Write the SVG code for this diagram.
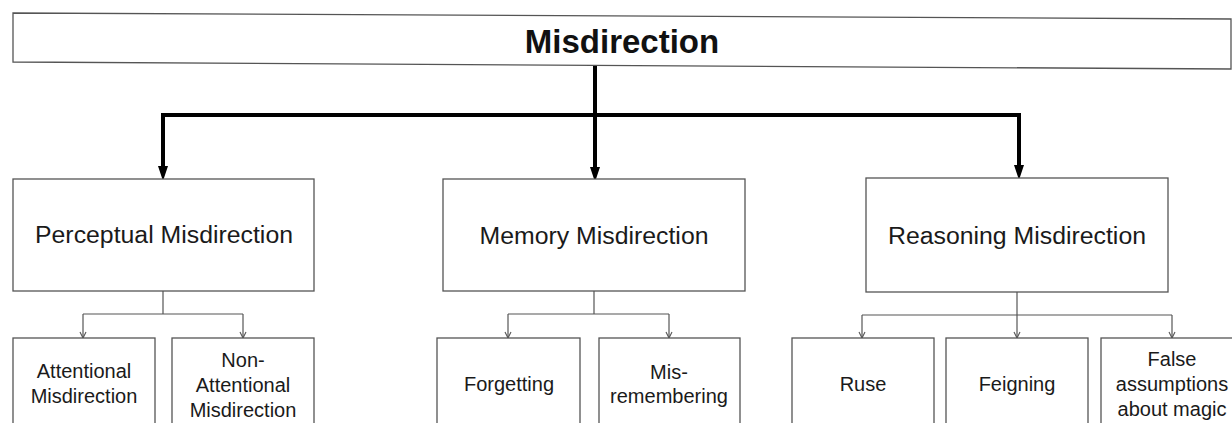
<svg xmlns="http://www.w3.org/2000/svg" width="1232" height="423" viewBox="0 0 1232 423">
  <style>
    .box { fill: #ffffff; stroke: #555555; stroke-width: 1.3; }
    .title { font-family: "Liberation Sans", Arial, Helvetica, sans-serif; font-weight: bold; font-size: 33px; fill: #111111; text-anchor: middle; }
    .mid { font-family: "Liberation Sans", Arial, Helvetica, sans-serif; font-size: 23px; fill: #1a1a1a; text-anchor: middle; }
    .leaf { font-family: "Liberation Sans", Arial, Helvetica, sans-serif; font-size: 20px; fill: #1a1a1a; text-anchor: middle; }
    .thick { fill: none; stroke: #000000; stroke-width: 4; }
    .thin { fill: none; stroke: #555555; stroke-width: 1.2; }
  </style>
  <defs>
    <marker id="bigArrow" viewBox="0 0 15 10" refX="0" refY="5" markerWidth="15" markerHeight="10" markerUnits="userSpaceOnUse" orient="auto">
      <path d="M0,0 L15,5 L0,10 z" fill="#000000"/>
    </marker>
    <marker id="smallArrow" viewBox="0 0 8 8" refX="7" refY="4" markerWidth="8" markerHeight="8" markerUnits="userSpaceOnUse" orient="auto">
      <path d="M1,1 L7,4 L1,7" fill="none" stroke="#555555" stroke-width="1.1"/>
    </marker>
  </defs>

  <rect width="1232" height="423" fill="#ffffff"/>

  <!-- connectors -->
  <g id="connectors">
    <!-- root to second level -->
    <path class="thick" d="M595,66 V167" stroke-width="3" marker-end="url(#bigArrow)"/>
    <path class="thick" d="M163,115 H1019"/>
    <path class="thick" d="M163,113 V166" marker-end="url(#bigArrow)"/>
    <path class="thick" d="M1019,113 V165" marker-end="url(#bigArrow)"/>

    <!-- perceptual branches -->
    <path class="thin" d="M163,291 V314 M83,314 H243"/>
    <path class="thin" d="M83,314 V338" marker-end="url(#smallArrow)"/>
    <path class="thin" d="M243,314 V338" marker-end="url(#smallArrow)"/>

    <!-- memory branches -->
    <path class="thin" d="M594,291 V314 M508,314 H669"/>
    <path class="thin" d="M508,314 V338" marker-end="url(#smallArrow)"/>
    <path class="thin" d="M669,314 V338" marker-end="url(#smallArrow)"/>

    <!-- reasoning branches -->
    <path class="thin" d="M862,315 H1172"/>
    <path class="thin" d="M1017,292 V338" stroke="#222222" stroke-width="2" marker-end="url(#smallArrow)"/>
    <path class="thin" d="M862,315 V338" marker-end="url(#smallArrow)"/>
    <path class="thin" d="M1172,315 V338" marker-end="url(#smallArrow)"/>
  </g>

  <!-- root -->
  <g id="node-misdirection">
    <polygon class="box" points="13,13 1231,19 1231,69 13,62"/>
    <text class="title" x="622" y="53">Misdirection</text>
  </g>

  <!-- second level -->
  <g id="node-perceptual">
    <rect class="box" x="13" y="179" width="301" height="112"/>
    <text class="mid" x="164" y="243" textLength="258" lengthAdjust="spacingAndGlyphs">Perceptual Misdirection</text>
  </g>
  <g id="node-memory">
    <rect class="box" x="443" y="179" width="302" height="112"/>
    <text class="mid" x="594" y="244" textLength="229" lengthAdjust="spacingAndGlyphs">Memory Misdirection</text>
  </g>
  <g id="node-reasoning">
    <rect class="box" x="866" y="178" width="302" height="114"/>
    <text class="mid" x="1017" y="244" textLength="258" lengthAdjust="spacingAndGlyphs">Reasoning Misdirection</text>
  </g>

  <!-- leaves -->
  <g id="node-attentional">
    <rect class="box" x="13" y="338" width="142" height="100"/>
    <text class="leaf" x="84" y="378">Attentional</text>
    <text class="leaf" x="84" y="403">Misdirection</text>
  </g>
  <g id="node-non-attentional">
    <rect class="box" x="172" y="338" width="142" height="100"/>
    <text class="leaf" x="243" y="367">Non-</text>
    <text class="leaf" x="243" y="392">Attentional</text>
    <text class="leaf" x="243" y="417">Misdirection</text>
  </g>
  <g id="node-forgetting">
    <rect class="box" x="437" y="338" width="143" height="100"/>
    <text class="leaf" x="509" y="391">Forgetting</text>
  </g>
  <g id="node-misremembering">
    <rect class="box" x="599" y="338" width="141" height="100"/>
    <text class="leaf" x="669" y="379">Mis-</text>
    <text class="leaf" x="669" y="403">remembering</text>
  </g>
  <g id="node-ruse">
    <rect class="box" x="792" y="338" width="142" height="100"/>
    <text class="leaf" x="863" y="391">Ruse</text>
  </g>
  <g id="node-feigning">
    <rect class="box" x="946" y="338" width="142" height="100"/>
    <text class="leaf" x="1017" y="391">Feigning</text>
  </g>
  <g id="node-false-assumptions">
    <rect class="box" x="1101" y="338" width="143" height="100"/>
    <text class="leaf" x="1172" y="366">False</text>
    <text class="leaf" x="1172" y="391">assumptions</text>
    <text class="leaf" x="1172" y="416">about magic</text>
  </g>
</svg>
